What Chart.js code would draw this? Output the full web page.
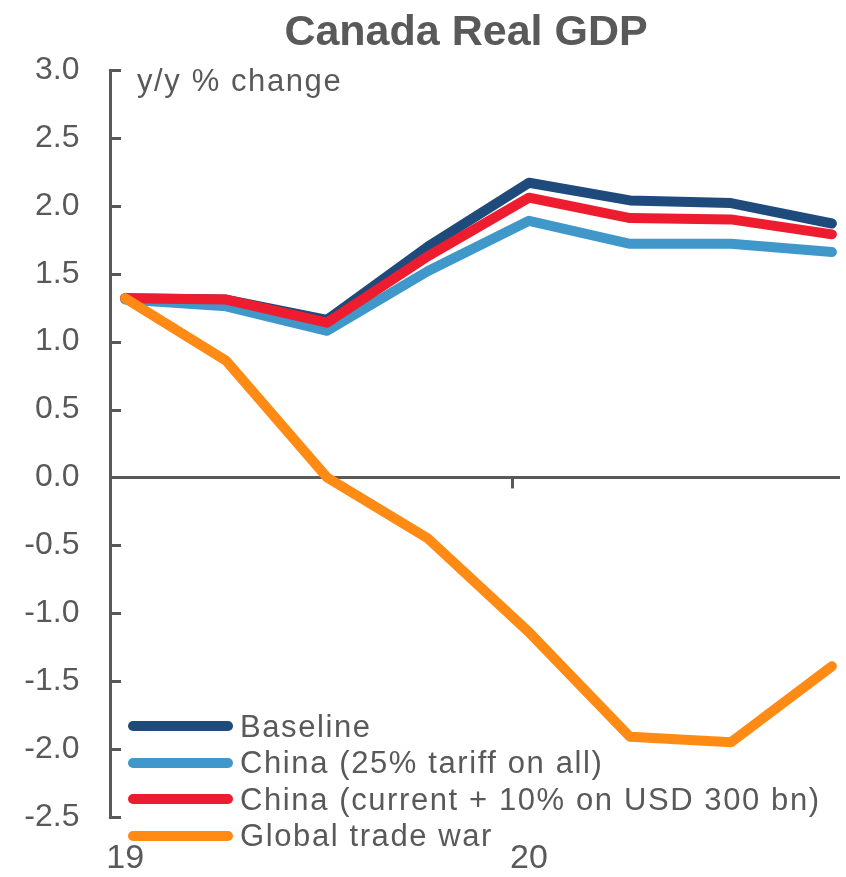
<!DOCTYPE html>
<html>
<head>
<meta charset="utf-8">
<title>Canada Real GDP</title>
<script src="https://cdn.jsdelivr.net/npm/chart.js@4.4.1/dist/chart.umd.min.js"></script>
<style>
  html, body { margin: 0; padding: 0; background: #ffffff; }
  #wrap { position: relative; width: 846px; height: 877px; overflow: hidden; }
  #wrap canvas { position: absolute; left: 0; top: 0; }
  .txt { position: absolute; font-family: "Liberation Sans", Arial, Helvetica, sans-serif; color: #595959; white-space: nowrap; line-height: 1; }
  #title { left: 466px; top: 9px; transform: translateX(-50%); font-size: 43px; font-weight: bold; }
  #unit { left: 137px; top: 65px; font-size: 31px; letter-spacing: 1.6px; }
  #legend { left: 128px; top: 707.7px; font-size: 31px; letter-spacing: 1.6px; }
  #legend .row { display: flex; align-items: center; height: 36.67px; }
  #legend .swatch { width: 105px; height: 10px; border-radius: 5px; margin-right: 7px; flex: none; }
</style>
</head>
<body>
<div id="wrap">
  <canvas id="chart" width="846" height="877" style="width:846px;height:877px"></canvas>
  <div id="title" class="txt">Canada Real GDP</div>
  <div id="unit" class="txt">y/y % change</div>
  <div id="legend" class="txt"></div>
</div>
<script>
// Quarterly real GDP growth, y/y % change, under each trade scenario
const quarters     = ['2019 Q1', '2019 Q2', '2019 Q3', '2019 Q4', '2020 Q1', '2020 Q2', '2020 Q3', '2020 Q4'];
const baseline     = [1.32, 1.31, 1.16, 1.70, 2.17, 2.04, 2.02, 1.87];
const china25      = [1.31, 1.26, 1.08, 1.52, 1.89, 1.72, 1.72, 1.66];
const chinaCurrent = [1.32, 1.31, 1.14, 1.63, 2.06, 1.91, 1.90, 1.79];
const tradeWar     = [1.32, 0.86, 0.00, -0.45, -1.14, -1.91, -1.95, -1.39];

// Year labels sit under the first quarter of each year
const yearLabels     = ['19', '20'];
const yearLabelIndex = [0, 4];
// Year boundary tick on the zero line (in quarter units)
const yearBoundary   = 3.83;

// Value axis
const yMin = -2.5, yMax = 3.0, yStep = 0.5;
// Quarter axis extent
const xMin = -0.15, xMax = 7.08;

const INK = '#595959';
const FONT = '"Liberation Sans", Arial, Helvetica, sans-serif';

function series(label, values, color, order) {
  return {
    label: label,
    data: values.map((v, i) => ({ x: i, y: v })),
    borderColor: color,
    backgroundColor: color,
    borderWidth: 10,
    borderCapStyle: 'round',
    borderJoinStyle: 'round',
    pointRadius: 0,
    pointHoverRadius: 0,
    tension: 0,
    fill: false,
    clip: false,
    order: order
  };
}

const datasets = [
  series('Baseline', baseline, '#1f4a7c', 3),
  series('China (25% tariff on all)', china25, '#3f97ca', 2),
  series('China (current + 10% on USD 300 bn)', chinaCurrent, '#ee1c2f', 1),
  series('Global trade war', tradeWar, '#ff8a14', 0)
];

// Inward tick marks on the value axis and the year-boundary tick below the zero line
const axisTicks = {
  id: 'axisTicks',
  beforeDatasetsDraw(chart) {
    const { ctx, chartArea } = chart;
    const x = chart.scales.x, y = chart.scales.y;
    ctx.save();
    ctx.strokeStyle = INK;
    ctx.lineWidth = 3;
    ctx.lineCap = 'butt';
    y.ticks.forEach((t) => {
      const py = Math.round(y.getPixelForValue(t.value)) + 0.5;
      ctx.beginPath();
      ctx.moveTo(chartArea.left, py);
      ctx.lineTo(chartArea.left + 11, py);
      ctx.stroke();
    });
    const px = Math.round(x.getPixelForValue(yearBoundary)) + 0.5;
    const p0 = y.getPixelForValue(0);
    ctx.beginPath();
    ctx.moveTo(px, p0);
    ctx.lineTo(px, p0 + 11);
    ctx.stroke();
    ctx.restore();
  }
};

const chart = new Chart(document.getElementById('chart'), {
  type: 'line',
  data: { datasets: datasets },
  plugins: [axisTicks],
  options: {
    responsive: false,
    animation: false,
    devicePixelRatio: 1,
    layout: { padding: { left: 24, right: 6, top: 70, bottom: 1 } },
    plugins: {
      legend: { display: false },
      tooltip: { enabled: false },
      title: { display: false }
    },
    scales: {
      x: {
        type: 'linear',
        position: 'bottom',
        min: xMin,
        max: xMax,
        border: { display: false },
        grid: { display: false, drawTicks: false },
        ticks: {
          color: INK,
          font: { family: FONT, size: 34, lineHeight: 1 },
          padding: 25,
          maxRotation: 0,
          autoSkip: false,
          callback: (v) => {
            const k = yearLabelIndex.indexOf(v);
            return k >= 0 ? yearLabels[k] : '';
          }
        },
        afterBuildTicks: (s) => { s.ticks = yearLabelIndex.map((v) => ({ value: v })); },
        afterFit: (s) => { s.height = 59; }
      },
      y: {
        type: 'linear',
        position: 'left',
        min: yMin,
        max: yMax,
        border: { display: true, color: INK, width: 3 },
        grid: {
          display: true,
          drawOnChartArea: true,
          drawTicks: false,
          lineWidth: 3,
          color: (c) => (c.tick && c.tick.value === 0 ? INK : 'rgba(0,0,0,0)')
        },
        ticks: {
          stepSize: yStep,
          color: INK,
          font: { family: FONT, size: 32, lineHeight: 1.2 },
          padding: 30.5,
          callback: (v) => Number(v).toFixed(1)
        },
        afterFit: (s) => { s.width = 86; }
      }
    }
  }
});

// Legend rows built from the chart's datasets
const legendBox = document.getElementById('legend');
chart.data.datasets.forEach((ds) => {
  const row = document.createElement('div');
  row.className = 'row';
  const sw = document.createElement('span');
  sw.className = 'swatch';
  sw.style.background = ds.borderColor;
  const lab = document.createElement('span');
  lab.textContent = ds.label;
  row.appendChild(sw);
  row.appendChild(lab);
  legendBox.appendChild(row);
});
</script>
</body>
</html>
